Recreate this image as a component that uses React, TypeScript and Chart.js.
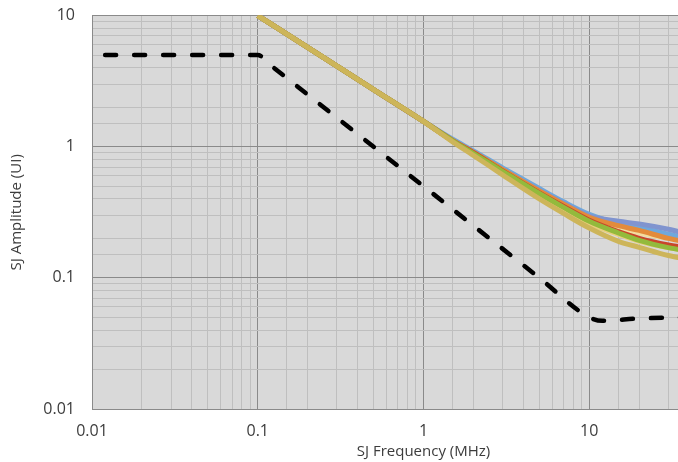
import { useEffect, useRef } from 'react';
import { Chart, registerables } from 'chart.js';

Chart.register(...registerables);

// SJ tolerance mask (dashed)
const maskFreq = [0.012, 0.1, 0.12, 0.2, 0.5, 1, 2, 5, 10, 12, 20, 40];
const maskAmp = [5, 5, 4.17, 2.5, 1, 0.5, 0.25, 0.1, 0.05, 0.047, 0.049, 0.05];

// Measured curves
const devFreq = [0.1, 0.2, 0.5, 1, 1.5, 2, 3, 5, 7, 10, 15, 20, 30, 40];
const darkYellowAmp = [10, 5.73, 2.73, 1.56, 1.09, 0.86, 0.61, 0.4, 0.31, 0.24, 0.19, 0.171, 0.148, 0.138];
const greenAmp = [10, 5.73, 2.73, 1.56, 1.11, 0.89, 0.65, 0.44, 0.345, 0.27, 0.22, 0.193, 0.17, 0.16];
const redAmp = [10, 5.73, 2.73, 1.56, 1.11, 0.9, 0.655, 0.445, 0.35, 0.275, 0.225, 0.2, 0.178, 0.168];
const orangeAmp = [10, 5.73, 2.73, 1.56, 1.12, 0.91, 0.67, 0.46, 0.365, 0.29, 0.25, 0.23, 0.2, 0.185];
const purpleAmp = [10, 5.73, 2.73, 1.56, 1.12, 0.91, 0.67, 0.465, 0.37, 0.297, 0.27, 0.258, 0.235, 0.215];
const blueAmp = [10, 5.73, 2.73, 1.56, 1.14, 0.93, 0.69, 0.48, 0.38, 0.305, 0.26, 0.243, 0.215, 0.2];
const creamAmp = [10, 5.73, 2.73, 1.56, 1.12, 0.9, 0.66, 0.45, 0.355, 0.28, 0.24, 0.22, 0.2, 0.19];
const yellowAmp = [10, 5.73, 2.73, 1.56, 1.1, 0.88, 0.64, 0.43, 0.335, 0.26, 0.215, 0.19, 0.17, 0.16];

const xTickLabels = ['0.01', '0.1', '1', '10'];
const yTickLabels = ['0.01', '0.1', '1', '10'];

const FONT = '"Open Sans", "Liberation Sans", sans-serif';
const TEXT = '#3c3c3c';

const isPow10 = (v: number) => {
  const l = Math.log10(v);
  return Math.abs(l - Math.round(l)) < 1e-6;
};
const fmt = (v: number) => {
  const e = Math.round(Math.log10(v));
  return e >= 0 ? String(Math.pow(10, e)) : (Math.pow(10, e)).toFixed(-e);
};

const pts = (xs: number[], ys: number[]) => xs.map((x, i) => ({ x, y: ys[i] }));

const bgPlugin = {
  id: 'plotBg',
  beforeDraw(chart: any) {
    const { ctx, chartArea } = chart;
    ctx.save();
    ctx.fillStyle = '#d9d9d9';
    ctx.fillRect(chartArea.left, chartArea.top, chartArea.right - chartArea.left, chartArea.bottom - chartArea.top);
    ctx.restore();
  },
};

export default function App() {
  const ref = useRef<HTMLCanvasElement | null>(null);

  useEffect(() => {
    if (!ref.current) return;
    const line = (data: number[], color: string) => ({
      data: pts(devFreq, data),
      borderColor: color,
      backgroundColor: color,
      borderWidth: 5,
      pointRadius: 0,
      fill: false,
      cubicInterpolationMode: 'monotone' as const,
    });
    const chart = new Chart(ref.current, {
      type: 'line',
      data: {
        datasets: [
          {
            data: pts(maskFreq, maskAmp),
            borderColor: '#000000',
            borderWidth: 4.5,
            borderDash: [11, 18],
            borderCapStyle: 'round',
            pointRadius: 0,
            fill: false,
            cubicInterpolationMode: 'monotone',
          },
          line(darkYellowAmp, '#cdb55a'),
          line(greenAmp, '#93ba3c'),
          line(redAmp, '#c9452a'),
          line(orangeAmp, '#e38b3b'),
          line(purpleAmp, '#8094cf'),
          line(blueAmp, '#6fa8dc'),
          line(creamAmp, '#f3dd9f'),
          line(yellowAmp, '#e9cf7e'),
        ],
      },
      options: {
        responsive: false,
        animation: false,
        events: [],
        layout: { padding: { left: 0, right: 0, top: 4, bottom: 0 } },
        plugins: { legend: { display: false }, tooltip: { enabled: false } },
        scales: {
          x: {
            type: 'logarithmic',
            min: 0.01,
            max: 100,
            afterFit: (s: any) => { s.height = 53; },
            grid: {
              drawTicks: false,
              color: (c: any) => {
                const v = c.tick?.value;
                if (v == null) return 'transparent';
                return isPow10(v) ? '#8a8a8a' : '#bfbfbf';
              },
            },
            border: { display: true, color: '#8a8a8a' },
            ticks: {
              autoSkip: false,
              maxRotation: 0,
              padding: 13,
              color: TEXT,
              font: { family: FONT, size: 16 },
              callback: (v: any) => {
                const n = Number(v);
                if (!isPow10(n)) return '';
                const s = fmt(n);
                return xTickLabels.includes(s) ? s : '';
              },
            },
            title: {
              display: true,
              text: 'SJ Frequency (MHz)',
              color: TEXT,
              font: { family: FONT, size: 15 },
              padding: { top: 0, bottom: 1 },
            },
          },
          y: {
            type: 'logarithmic',
            min: 0.01,
            max: 10,
            afterFit: (s: any) => { s.width = 92; },
            grid: {
              drawTicks: false,
              color: (c: any) => {
                const v = c.tick?.value;
                if (v == null) return 'transparent';
                return isPow10(v) ? '#8a8a8a' : '#bfbfbf';
              },
            },
            border: { display: true, color: '#8a8a8a' },
            ticks: {
              autoSkip: false,
              padding: 17,
              color: TEXT,
              font: { family: FONT, size: 16 },
              callback: (v: any) => {
                const n = Number(v);
                if (!isPow10(n)) return '';
                const s = fmt(n);
                return yTickLabels.includes(s) ? s : '';
              },
            },
            title: {
              display: true,
              text: 'SJ Amplitude (UI)',
              color: TEXT,
              font: { family: FONT, size: 15 },
              padding: { top: 8, bottom: 0 },
            },
          },
        },
      },
      plugins: [bgPlugin],
    });
    return () => chart.destroy();
  }, []);

  return (
    <div style={{ position: 'absolute', left: 0, top: 0, width: 678, height: 462, overflow: 'hidden', background: '#fff' }}>
      <canvas ref={ref} width={768} height={473} style={{ display: 'block', width: 768, height: 473, marginTop: -11 }} />
    </div>
  );
}
